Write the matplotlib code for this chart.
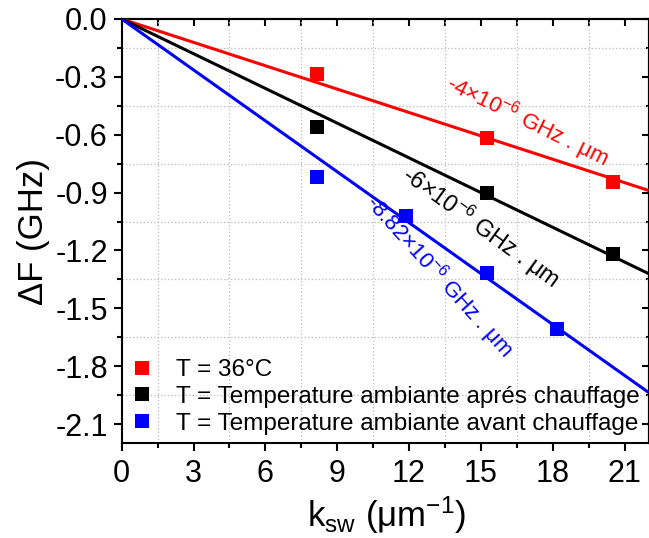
import matplotlib
matplotlib.use('Agg')
import matplotlib.pyplot as plt
from matplotlib.ticker import MultipleLocator, FixedLocator

plt.rcParams['font.family'] = ['Liberation Sans', 'DejaVu Sans']
plt.rcParams['mathtext.fontset'] = 'custom'
plt.rcParams['mathtext.rm'] = 'Liberation Sans'
plt.rcParams['mathtext.it'] = 'Liberation Sans:italic'
plt.rcParams['mathtext.bf'] = 'Liberation Sans:bold'
plt.rcParams['axes.unicode_minus'] = False

# ---- data ----
k_36 = [8.14, 15.24, 20.52]
dF_36 = [-0.285, -0.619, -0.845]
k_apres = [8.14, 15.24, 20.52]
dF_apres = [-0.561, -0.900, -1.218]
k_avant = [8.14, 11.87, 15.24, 18.17]
dF_avant = [-0.818, -1.021, -1.319, -1.607]
fit_slopes = [-0.0404, -0.0600, -0.0880]
fit_k = [0.0, 22.0]
series_labels = ['T = 36°C',
                 'T = Temperature ambiante aprés chauffage',
                 'T = Temperature ambiante avant chauffage']
slope_texts = ['-4×10$^{\\mathregular{-6}}$ GHz . μm',
               '-6×10$^{\\mathregular{-6}}$ GHz . μm',
               '-8.82×10$^{\\mathregular{-6}}$ GHz . μm']
x_ticks = [0, 3, 6, 9, 12, 15, 18, 21]
y_ticks = [0.0, -0.3, -0.6, -0.9, -1.2, -1.5, -1.8, -2.1]
y_tick_labels = ['0.0', '-0.3', '-0.6', '-0.9', '-1.2', '-1.5', '-1.8', '-2.1']

colors = ['#ff0000', '#000000', '#0000ff']
series = [(k_36, dF_36), (k_apres, dF_apres), (k_avant, dF_avant)]

fig = plt.figure(figsize=(6.49, 5.38), dpi=100)
ax = fig.add_axes([121.7 / 649, (538 - 443.3) / 538, (648.5 - 121.7) / 649, (443.3 - 19) / 538])

handles = []
for (kx, dy), slope, col, lab in zip(series, fit_slopes, colors, series_labels):
    ax.plot(fit_k, [slope * v for v in fit_k], color=col, lw=2.2, zorder=3,
            solid_capstyle='butt')
    h, = ax.plot(kx, dy, ls='none', marker='s', ms=10.3, mfc=col, mec=col,
                 mew=0.0, zorder=4, label=lab)
    handles.append(h)

ax.set_xlim(0, 22)
ax.set_ylim(-2.2, 0)

ax.xaxis.set_major_locator(FixedLocator(x_ticks))
ax.xaxis.set_minor_locator(MultipleLocator(1.5))
ax.yaxis.set_major_locator(FixedLocator(y_ticks))
ax.set_yticklabels(y_tick_labels)
ax.yaxis.set_minor_locator(MultipleLocator(0.15))

for sp in ax.spines.values():
    sp.set_linewidth(1.5)

ax.tick_params(axis='both', which='major', direction='out', length=6, width=1.5,
               labelsize=22, pad=4)
ax.tick_params(axis='both', which='minor', direction='out', length=3.5, width=1.5)
ax.tick_params(axis='x', which='major', pad=5)

# grid on minor positions
ax.grid(which='minor', color='#c4c4c4', lw=0.9, ls=(0, (1.2, 1.6)))
ax.grid(which='major', visible=False)
ax.set_axisbelow(True)

# top / right inward ticks
top = ax.secondary_xaxis('top')
top.xaxis.set_major_locator(FixedLocator(x_ticks))
top.xaxis.set_minor_locator(MultipleLocator(1.5))
top.tick_params(which='both', direction='in', length=5, width=1.5, labeltop=False)
top.spines['top'].set_linewidth(1.5)
right = ax.secondary_yaxis('right')
right.yaxis.set_major_locator(FixedLocator(y_ticks))
right.yaxis.set_minor_locator(MultipleLocator(0.15))
right.tick_params(which='major', direction='in', length=5, width=1.5, labelright=False)
right.tick_params(which='minor', direction='in', length=2.5, width=1.5, labelright=False)
right.spines['right'].set_linewidth(1.5)

ax.set_ylabel('ΔF (GHz)', fontsize=25, va='center')
ax.yaxis.set_label_coords(-0.168, 0.5)
ax.set_xlabel('k$_{\\mathregular{sw}}$ (μm$^{\\mathregular{-1}}$)', fontsize=25, va='baseline')
ax.xaxis.set_label_coords(0.502, -0.197)

# slope annotations
ann_pos = [(16.93, -0.53), (15.0, -1.08), (13.25, -1.33)]
ann_rot = [-26, -36, -48]
ann_size = [16, 17, 16]
for txt, (px, py), rot, col, fs in zip(slope_texts, ann_pos, ann_rot, colors, ann_size):
    ax.text(px, py, txt, color=col, fontsize=fs, rotation=rot, rotation_mode='anchor',
            ha='center', va='center', zorder=5)

ax.legend(handles=handles, loc='lower left', bbox_to_anchor=(0.0157, 0.02),
          frameon=False, fontsize=17.5, handlelength=1.0, handletextpad=0.9,
          borderpad=0, borderaxespad=0, labelspacing=0.2)

fig.savefig('out.png', dpi=100)
